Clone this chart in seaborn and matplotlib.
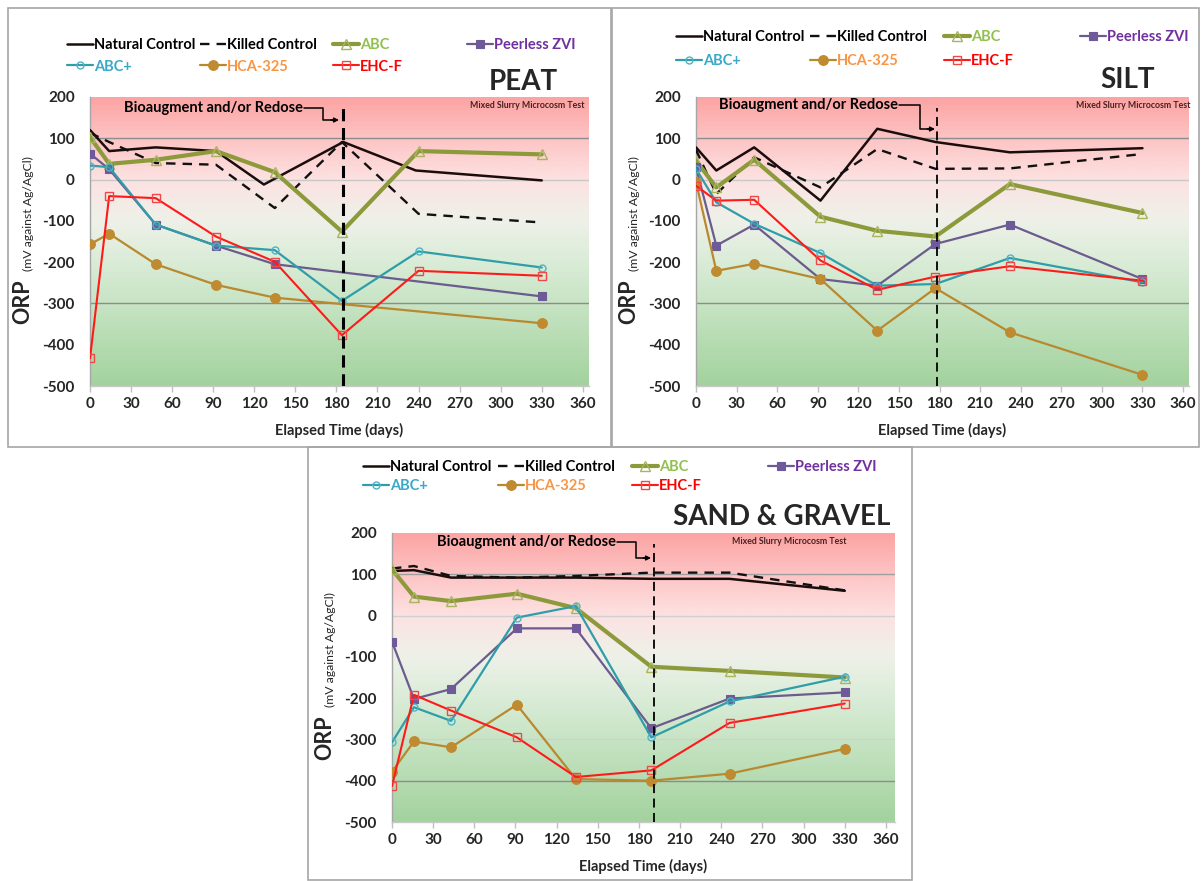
import numpy as np
import pandas as pd
import matplotlib
matplotlib.use("Agg")
import matplotlib.pyplot as plt
import seaborn as sns
from matplotlib.lines import Line2D
from matplotlib.patches import Rectangle, FancyArrowPatch
from matplotlib.font_manager import FontProperties

# ---------------- data ----------------
series_names = ["Natural Control", "Killed Control", "ABC", "Peerless ZVI", "ABC+", "HCA-325", "EHC-F"]
x_ticks = [0, 30, 60, 90, 120, 150, 180, 210, 240, 270, 300, 330, 360]
y_ticks = [200, 100, 0, -100, -200, -300, -400, -500]

# PEAT
peat_days = [0, 14, 48, 92, 135, 184, 240, 330]
peat_natural_days = [0, 14, 48, 92, 127, 185, 238, 330]
peat_natural = [120, 69, 78, 69, -12, 91, 22, -2]
peat_killed = [113, 91, 40, 36, -69, 91, -83, -104]
peat_abc = [103, 38, 48, 69, 18, -126, 69, 61]
peat_peerless_days = [0, 14, 48, 92, 135, 330]
peat_peerless = [63, 25, -109, -160, -205, -283]
peat_abc_plus = [34, 30, -109, -160, -171, -294, -174, -213]
peat_hca_days = [0, 14, 48, 92, 135, 330]
peat_hca = [-157, -131, -205, -255, -286, -348]
peat_ehc = [-433, -40, -45, -138, -199, -377, -221, -233]
peat_event_day = 185

# SILT
silt_days = [0, 15, 43, 92, 134, 177, 232, 330]
silt_natural = [78, 22, 78, -51, 123, 91, 66, 76]
silt_killed = [72, -35, 54, -19, 74, 26, 27, 62]
silt_abc = [46, -19, 48, -90, -124, -138, -11, -81]
silt_peerless = [30, -160, -109, -241, -257, -156, -109, -241]
silt_abc_plus = [26, -55, -107, -178, -257, -253, -190, -249]
silt_hca = [-6, -221, -204, -241, -366, -263, -370, -473]
silt_ehc = [-15, -51, -49, -196, -267, -235, -210, -245]
silt_event_day = 178

# SAND & GRAVEL
sand_days = [0, 16, 43, 91, 134, 189, 246, 330]
sand_natural = [108, 110, 92, 92, 92, 89, 89, 60]
sand_killed = [114, 120, 96, 92, 96, 104, 104, 61]
sand_abc = [112, 46, 35, 53, 18, -124, -134, -150]
sand_peerless = [-63, -202, -178, -31, -31, -273, -201, -186]
sand_abc_plus = [-307, -222, -255, -5, 23, -295, -208, -148]
sand_hca = [-378, -305, -319, -216, -396, -400, -383, -323]
sand_ehc = [-413, -192, -230, -295, -391, -375, -260, -213]
sand_event_day = 191

panel_titles = ["PEAT", "SILT", "SAND & GRAVEL"]
note_text = "Mixed Slurry Microcosm Test"
event_text = "Bioaugment and/or Redose"
x_label = "Elapsed Time (days)"

# ---------------- styles ----------------
W, H = 1202, 881
FONT = "Lato"

styles = {
    "Natural Control": dict(color="#1c0d0d", linewidth=1.8, linestyle="-"),
    "Killed Control": dict(color="#111111", linewidth=1.7, linestyle=(0, (4, 3))),
    "ABC": dict(color="#8c9a3b", linewidth=3.0, marker="^", markersize=7.5,
                markerfacecolor="none", markeredgecolor="#a9b45e", markeredgewidth=1.0),
    "Peerless ZVI": dict(color="#6b5b8e", linewidth=1.6, marker="s", markersize=5.5,
                         markerfacecolor="#6e5a98", markeredgecolor="#6e5a98", markeredgewidth=0.8),
    "ABC+": dict(color="#2f9ea8", linewidth=1.6, marker="o", markersize=5,
                 markerfacecolor="none", markeredgecolor="#4fb3c6", markeredgewidth=1.0),
    "HCA-325": dict(color="#b8892f", linewidth=1.6, marker="o", markersize=7,
                    markerfacecolor="#c08a30", markeredgecolor="#c08a30", markeredgewidth=0.8),
    "EHC-F": dict(color="#ff1a1a", linewidth=1.5, marker="s", markersize=5.5,
                  markerfacecolor="none", markeredgecolor="#f04848", markeredgewidth=1.0),
}
text_colors = {"Natural Control": "#000000", "Killed Control": "#000000", "ABC": "#92c050",
               "Peerless ZVI": "#7030a0", "ABC+": "#3aa8c8", "HCA-325": "#f79646", "EHC-F": "#ff0000"}

panels = [
    dict(title="PEAT", rect=(90, 589, 97, 386), xmax=364.5, event=peat_event_day,
         series={"Natural Control": (peat_natural_days, peat_natural),
                 "Killed Control": (peat_days, peat_killed),
                 "ABC": (peat_days, peat_abc),
                 "Peerless ZVI": (peat_peerless_days, peat_peerless),
                 "ABC+": (peat_days, peat_abc_plus),
                 "HCA-325": (peat_hca_days, peat_hca),
                 "EHC-F": (peat_days, peat_ehc)},
         grid=[(100, "#8c8c8c"), (0, "#c8c8c8"), (-300, "#8c8c8c")],
         border=(8, 8, 611, 447), leg_x=[67, 200, 333, 467], leg_top=38, leg_sp=0.52,
         title_xy=(523, 82), note_xy=(585, 106), ev_text=(124, 108), ev_mid=323, ev_low=120,
         ev_end=339, vstyle=dict(lw=2.2, ls=(0, (4, 2.2))), ylab_dx=0, ylab_dy=0,
         xlab_y=430),
    dict(title="SILT", rect=(696, 1189, 97, 386), xmax=364.4, event=silt_event_day,
         series={"Natural Control": (silt_days, silt_natural),
                 "Killed Control": (silt_days, silt_killed),
                 "ABC": (silt_days, silt_abc),
                 "Peerless ZVI": (silt_days, silt_peerless),
                 "ABC+": (silt_days, silt_abc_plus),
                 "HCA-325": (silt_days, silt_hca),
                 "EHC-F": (silt_days, silt_ehc)},
         grid=[(100, "#8c8c8c"), (0, "#c8c8c8"), (-300, "#8c8c8c")],
         border=(612, 8, 1199, 447), leg_x=[676, 810, 944, 1080], leg_top=30, leg_sp=0.66,
         title_xy=(1128, 80), note_xy=(1191, 106), ev_text=(719, 105), ev_mid=920, ev_low=129,
         ev_end=935, vstyle=dict(lw=1.3, ls=(0, (5, 3))), ylab_dx=606, ylab_dy=0,
         xlab_y=430),
    dict(title="SAND & GRAVEL", rect=(392, 895, 533, 822), xmax=366.6, event=sand_event_day,
         series={"Natural Control": (sand_days, sand_natural),
                 "Killed Control": (sand_days, sand_killed),
                 "ABC": (sand_days, sand_abc),
                 "Peerless ZVI": (sand_days, sand_peerless),
                 "ABC+": (sand_days, sand_abc_plus),
                 "HCA-325": (sand_days, sand_hca),
                 "EHC-F": (sand_days, sand_ehc)},
         grid=[(100, "#a0a0a0"), (0, "#d0d0d0"), (-300, "#d0d0d0"), (-400, "#8c8c8c")],
         border=(308, 447, 912, 880), leg_x=[363, 498, 632, 768], leg_top=460, leg_sp=0.33,
         title_xy=(782, 517), note_xy=(846, 542), ev_text=(437, 542), ev_mid=636, ev_low=558,
         ev_end=651, vstyle=dict(lw=1.3, ls=(0, (5, 3))), ylab_dx=302, ylab_dy=436,
         xlab_y=866),
]

# gradient stops (value -> rgb)
grad_vals = [200, 100, 0, -100, -200, -300, -500]
grad_cols = np.array([[252, 163, 163], [253, 196, 196], [253, 226, 226], [238, 241, 233],
                      [218, 236, 215], [199, 228, 196], [163, 210, 158]]) / 255.0

sns.set_theme(style="white")
plt.rcParams["font.family"] = [FONT, "DejaVu Sans"]

fig = plt.figure(figsize=(W / 100, H / 100), dpi=100)


def fx(px):
    return px / W


def fy(py):
    return 1 - py / H


yy = np.linspace(200, -500, 400)
grad_img = np.stack([np.interp(yy, grad_vals[::-1], grad_cols[::-1, k]) for k in range(3)], axis=-1)
grad_img = grad_img[:, None, :]

tick_fp = FontProperties(family=FONT, weight="bold", size=11)
leg_fp = FontProperties(family=FONT, weight="bold", size=10.5)

for p in panels:
    l, r, t, b = p["rect"]
    ax = fig.add_axes([fx(l), fy(b), (r - l) / W, (b - t) / H])
    ax.imshow(grad_img, extent=[0, p["xmax"], -500, 200], aspect="auto", zorder=0,
              interpolation="bilinear")
    ax.set_xlim(0, p["xmax"])
    ax.set_ylim(-500, 200)
    for val, col in p["grid"]:
        ax.axhline(val, color=col, lw=1.0, zorder=1)

    handles = {}
    for name in series_names:
        days, vals = p["series"][name]
        df = pd.DataFrame({"day": days, "orp": vals})
        st = dict(styles[name])
        sns.lineplot(data=df, x="day", y="orp", ax=ax, errorbar=None, sort=False,
                     legend=False, zorder=3, **st)
        handles[name] = ax.lines[-1]

    ax.vlines(p["event"], -500, 173, colors="black", linestyles=p["vstyle"]["ls"],
              linewidth=p["vstyle"]["lw"], zorder=4)

    ax.set_xticks(x_ticks)
    ax.set_yticks(y_ticks)
    ax.set_xticklabels([str(v) for v in x_ticks], fontproperties=tick_fp)
    ax.set_yticklabels([str(v) for v in y_ticks], fontproperties=tick_fp)
    ax.tick_params(axis="x", length=4, width=1, color="#bfbfbf", pad=4, bottom=True)
    ax.tick_params(axis="y", length=0, pad=11)
    ax.set_xlabel("")
    ax.set_ylabel("")
    for s in ["top", "right"]:
        ax.spines[s].set_visible(False)
    ax.spines["left"].set_color("#a6a6a6")
    ax.spines["bottom"].set_color("#c8c8c8")
    ax.spines["left"].set_linewidth(1.0)
    ax.spines["bottom"].set_linewidth(1.0)
    ax.grid(False)

    # legend: four columns
    cols = [["Natural Control", "ABC+"], ["Killed Control", "HCA-325"], ["ABC", "EHC-F"], ["Peerless ZVI"]]
    for cx, names in zip(p["leg_x"], cols):
        leg = fig.legend([handles[n] for n in names], names, loc="upper left",
                         bbox_to_anchor=(fx(cx), fy(p["leg_top"])), bbox_transform=fig.transFigure,
                         frameon=False, borderpad=0, borderaxespad=0, handlelength=1.75,
                         handletextpad=0.1, labelspacing=p["leg_sp"], prop=leg_fp, numpoints=1)
        for txt, n in zip(leg.get_texts(), names):
            txt.set_color(text_colors[n])

    # titles and notes
    fig.text(fx(p["title_xy"][0]), fy(p["title_xy"][1]), p["title"], fontsize=20, fontweight="bold",
             family=FONT, ha="center", va="center")
    fig.text(fx(p["note_xy"][0]), fy(p["note_xy"][1]), note_text, fontsize=6.3, fontweight="bold",
             family=FONT, ha="right", va="center", color="#4a2020")

    # event annotation
    ex, ey = p["ev_text"]
    tx = fig.text(fx(ex), fy(ey), event_text, fontsize=10.5, fontweight="bold", family=FONT,
                  ha="left", va="center", color="black")
    fig.canvas.draw()
    bb = tx.get_window_extent()
    x_start = bb.x1 + 1
    fig.add_artist(Line2D([fx(x_start), fx(p["ev_mid"]), fx(p["ev_mid"]), fx(p["ev_end"] - 6)],
                          [fy(ey), fy(ey), fy(p["ev_low"]), fy(p["ev_low"])],
                          transform=fig.transFigure, color="black", lw=1.1))
    fig.add_artist(FancyArrowPatch(
        (fx(p["ev_end"] - 8), fy(p["ev_low"])), (fx(p["ev_end"]), fy(p["ev_low"])),
        transform=fig.transFigure, arrowstyle="-|>", mutation_scale=7, color="black", lw=1.0,
        shrinkA=0, shrinkB=0))

    # axis labels
    dx, dy = p["ylab_dx"], p["ylab_dy"]
    fig.text(fx(23 + dx), fy(302 + dy), "ORP", rotation=90, fontsize=15.5, fontweight="bold",
             family=FONT, ha="center", va="center")
    fig.text(fx(28 + dx), fy(214 + dy), "(mV against Ag/AgCl)", rotation=90, fontsize=8.8,
             family=FONT, ha="center", va="center")
    fig.text(fx((l + r) / 2), fy(p["xlab_y"]), x_label, fontsize=10.5, fontweight="bold",
             family=FONT, ha="center", va="center")

    # panel border
    bx0, by0, bx1, by1 = p["border"]
    fig.add_artist(Rectangle((fx(bx0), fy(by1)), (bx1 - bx0) / W, (by1 - by0) / H,
                             transform=fig.transFigure, fill=False, ec="#a6a6a6", lw=1.2))

fig.savefig("out.png", dpi=100)
